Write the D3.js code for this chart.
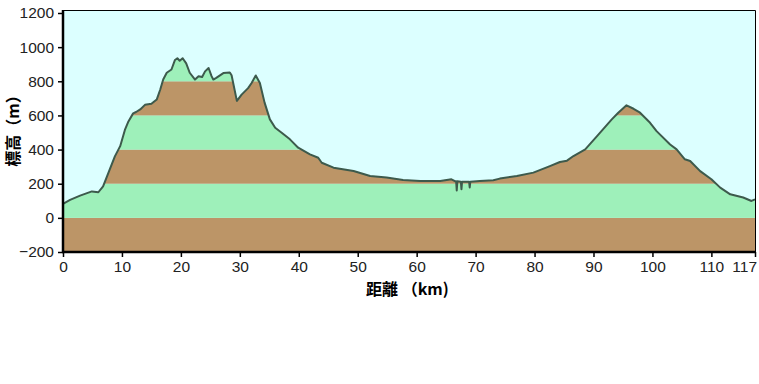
<!DOCTYPE html>
<html>
<head>
<meta charset="utf-8">
<script src="https://cdn.jsdelivr.net/npm/d3@7"></script>
<style>
  html, body { margin: 0; padding: 0; background: #ffffff; }
  svg { display: block; }
</style>
</head>
<body>
<svg id="chart" width="759" height="384"></svg>
<script>
// ---- data ----
const distanceKm = [0, 1.2, 2.9, 4.9, 6.0, 6.8, 8.0, 8.8, 9.7, 10.5, 11.1, 11.9, 12.4, 13.1, 13.9, 15.0, 15.9, 16.5, 17.0, 17.6,
  18.4, 19.0, 19.4, 19.8, 20.3, 20.9, 21.5, 22.4, 23.0, 23.6, 24.1, 24.7, 25.2, 25.5, 26.0, 27.2, 28.3, 28.6, 29.5, 30.3,
  31.4, 32.0, 32.7, 33.4, 34.2, 35.1, 36.0, 37.1, 38.5, 39.9, 41.9, 43.3, 43.9, 45.9, 49.3, 52.1, 54.9, 57.7, 60.6, 64.0,
  65.9, 66.5, 66.7, 66.8, 66.9, 67.5, 67.6, 67.7, 68.9, 69.0, 69.1, 70.7, 73.0, 74.1, 77.0, 79.8, 82.6, 84.3, 85.5, 86.6,
  88.6, 90.6, 93.1, 94.2, 95.6, 96.8, 97.9, 99.6, 100.7, 103.0, 104.1, 105.5, 106.4, 108.1, 110.0, 111.5, 113.2, 115.4, 116.8, 117.4];
const elevationM = [82, 105, 130, 155, 150, 185, 290, 360, 420, 515, 565, 612, 620, 635, 662, 668, 693, 752, 810, 850,
  869, 925, 935, 920, 935, 905, 850, 810, 830, 825, 858, 878, 830, 810, 820, 848, 852, 835, 685, 722,
  760, 790, 834, 790, 675, 577, 528, 499, 460, 411, 372, 352, 323, 294, 274, 245, 236, 222, 216, 216,
  226, 215, 214, 160, 214, 212, 168, 212, 212, 178, 212, 216, 220, 230, 245, 265, 303, 327, 335, 362,
  401, 479, 577, 616, 659, 639, 616, 557, 508, 430, 401, 343, 333, 274, 226, 177, 138, 119, 99, 108];

const yTicks = [-200, 0, 200, 400, 600, 800, 1000, 1200];
const xTicks = [0, 10, 20, 30, 40, 50, 60, 70, 80, 90, 100, 110, 117.4];
const xTickLabels = ["0", "10", "20", "30", "40", "50", "60", "70", "80", "90", "100", "110", "117"];
const bandLows = [-200, 0, 200, 400, 600, 800, 1000];
const bandColors = ["#bc9567", "#9ef0ba", "#bc9567", "#9ef0ba", "#bc9567", "#9ef0ba", "#bc9567"];
const yTitle = "標高（m）";
const xTitle = "距離 （km)";

(function () {
// ---- layout ----
const svg = d3.select("#chart");
const pL = 63, pR = 755, pT = 13, pB = 252;
const x = d3.scaleLinear().domain([0, 117.4]).range([pL, pR]);
const y = d3.scaleLinear().domain([-200, 1200]).range([pB, pT]);

const pts = distanceKm.map((d, i) => [d, elevationM[i]]);

// sky background
svg.append("rect").attr("x", pL).attr("y", 10).attr("width", pR - pL).attr("height", pB - 10)
  .attr("fill", "#dcffff");

// clip for terrain
const area = d3.area().x(d => x(d[0])).y0(y(-200)).y1(d => y(d[1]));
svg.append("clipPath").attr("id", "terrain").append("path").attr("d", area(pts));

svg.append("g").attr("clip-path", "url(#terrain)")
  .selectAll("rect").data(bandLows).join("rect")
  .attr("x", pL).attr("width", pR - pL)
  .attr("y", d => y(Math.min(d + 200, 1200)))
  .attr("height", d => y(d) - y(Math.min(d + 200, 1200)))
  .attr("fill", (d, i) => bandColors[i]);

// profile line
svg.append("path").datum(pts)
  .attr("d", d3.line().x(d => x(d[0])).y(d => y(d[1])))
  .attr("fill", "none").attr("stroke", "#3d5a4c").attr("stroke-width", 2).attr("stroke-linejoin", "round");

// frame (thin top/right)
svg.append("path").attr("d", `M${pL},10.5H${pR + 0.5}V${pB}`)
  .attr("fill", "none").attr("stroke", "#000").attr("stroke-width", 1);

// y axis
const yAxis = svg.append("g").attr("transform", `translate(${pL},0)`)
  .call(d3.axisLeft(y).tickValues(yTicks).tickSize(5).tickPadding(4).tickFormat(d3.format("d")));
yAxis.select(".domain").attr("d", `M0,10V${pB + 1}`).attr("stroke-width", 2.5);
yAxis.selectAll(".tick line").attr("stroke-width", 1.5);
yAxis.selectAll("text").attr("font-family", "'Liberation Sans', Arial, sans-serif").attr("font-size", 15.5).attr("fill", "#222");

// x axis
const xAxis = svg.append("g").attr("transform", `translate(0,${pB})`)
  .call(d3.axisBottom(x).tickValues(xTicks).tickSize(5).tickPadding(4).tickFormat((d, i) => xTickLabels[i]));
xAxis.select(".domain").attr("d", `M${pL - 1},0H${pR + 1}`).attr("stroke-width", 2.5);
xAxis.selectAll(".tick line").attr("stroke-width", 1.5);
xAxis.selectAll("text").attr("font-family", "'Liberation Sans', Arial, sans-serif").attr("font-size", 15.5).attr("fill", "#222");
xAxis.selectAll(".tick").filter((d, i) => i === xTicks.length - 1).select("text")
  .attr("text-anchor", "end").attr("dx", "0.1em");

// titles
svg.append("text").attr("x", 366).attr("y", 295)
  .attr("font-family", "'Noto Sans CJK JP', sans-serif").attr("font-weight", "bold").attr("font-size", 16)
  .attr("fill", "#000").text(xTitle);
svg.append("text").attr("transform", "translate(19,127) rotate(-90)")
  .attr("text-anchor", "middle")
  .attr("font-family", "'Noto Sans CJK JP', sans-serif").attr("font-weight", "bold").attr("font-size", 16)
  .attr("fill", "#000").text(yTitle);
})();
</script>
</body>
</html>
